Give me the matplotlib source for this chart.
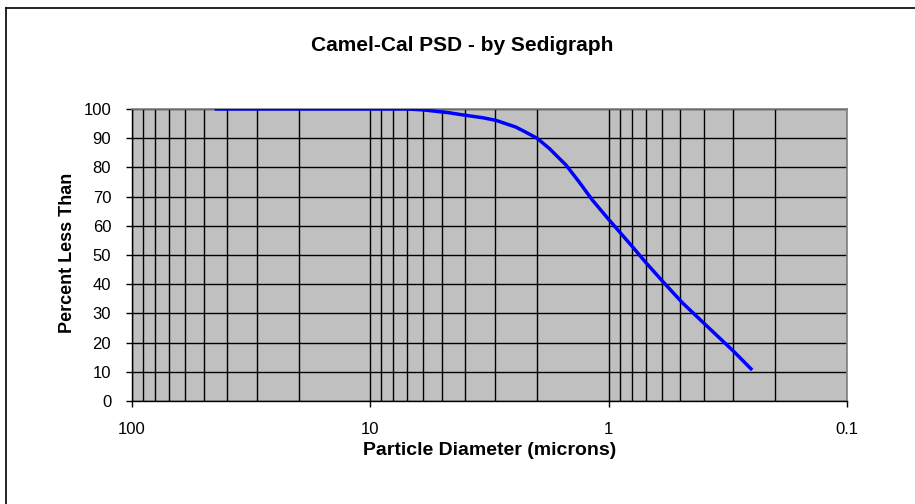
import matplotlib
matplotlib.use("Agg")
import matplotlib.pyplot as plt
from matplotlib.lines import Line2D
from matplotlib.ticker import FixedLocator, LogLocator, NullFormatter

plt.rcParams['font.family'] = ['Liberation Sans', 'DejaVu Sans']

# Sedigraph data
diameter = [45, 20, 10, 7.0, 6.0, 4.66, 3.96, 3.37, 2.97, 2.45, 2.22, 1.99, 1.77, 1.51,
            1.33, 1.17, 1.01, 0.794, 0.698, 0.594, 0.49, 0.398, 0.298, 0.25]
pct_less = [100, 100, 100, 100, 99.7, 98.7, 97.8, 97.0, 96.1, 93.8, 92.0, 89.9, 86.4, 80.8,
            75.0, 68.8, 62.6, 52.8, 47.4, 41.0, 33.6, 26.6, 16.9, 10.6]

x_ticks = [100, 10, 1, 0.1]
x_labels = ['100', '10', '1', '0.1']
y_ticks = list(range(0, 101, 10))

fig = plt.figure(figsize=(9.15, 5.04), dpi=100)
ax = fig.add_axes([132 / 915, 1 - 401 / 504, 715 / 915, 292 / 504])

# Excel-style gray plot area
ax.set_facecolor('#C0C0C0')
ax.plot(diameter, pct_less, color='#0000FF', linewidth=2.5, solid_capstyle='butt',
        solid_joinstyle='round', zorder=3)

ax.set_xscale('log')
ax.set_xlim(100, 0.1)
ax.set_ylim(0, 100)

ax.xaxis.set_major_locator(FixedLocator(x_ticks))
ax.set_xticklabels(x_labels)
ax.xaxis.set_minor_locator(LogLocator(base=10, subs=range(2, 10)))
ax.xaxis.set_minor_formatter(NullFormatter())
ax.set_yticks(y_ticks)

ax.grid(True, which='both', axis='x', color='black', linewidth=1.0)
ax.grid(True, which='major', axis='y', color='black', linewidth=1.0)
ax.set_axisbelow(True)

ax.tick_params(axis='both', which='major', direction='out', length=4, width=1,
               labelsize=12, color='black')
ax.tick_params(axis='y', which='major', pad=11)
ax.tick_params(axis='x', which='major', pad=11)
ax.tick_params(axis='x', which='minor', length=0)

for side in ['top', 'right']:
    ax.spines[side].set_color('#808080')
    ax.spines[side].set_linewidth(1.2)
for side in ['left', 'bottom']:
    ax.spines[side].set_color('black')
    ax.spines[side].set_linewidth(1.0)

ax.set_xlabel('Particle Diameter (microns)', fontsize=14, fontweight='bold', va='baseline')
ax.xaxis.set_label_coords(0.5, (401 - 455) / 292)
ax.set_ylabel('Percent Less Than', fontsize=13, fontweight='bold', va='baseline')
ax.yaxis.set_label_coords((72 - 132) / 715, 0.507)
fig.text(462 / 915, 1 - 51 / 504, 'Camel-Cal PSD - by Sedigraph', ha='center', va='baseline',
         fontsize=15, fontweight='bold')

# chart frame (only top and left edges visible)
fig.add_artist(Line2D([6 / 915, 6 / 915], [0, 1 - 8 / 504], transform=fig.transFigure,
                      color='black', linewidth=1.2))
fig.add_artist(Line2D([6 / 915, 1], [1 - 8 / 504, 1 - 8 / 504], transform=fig.transFigure,
                      color='black', linewidth=1.2))

fig.savefig('out.png', dpi=100)
